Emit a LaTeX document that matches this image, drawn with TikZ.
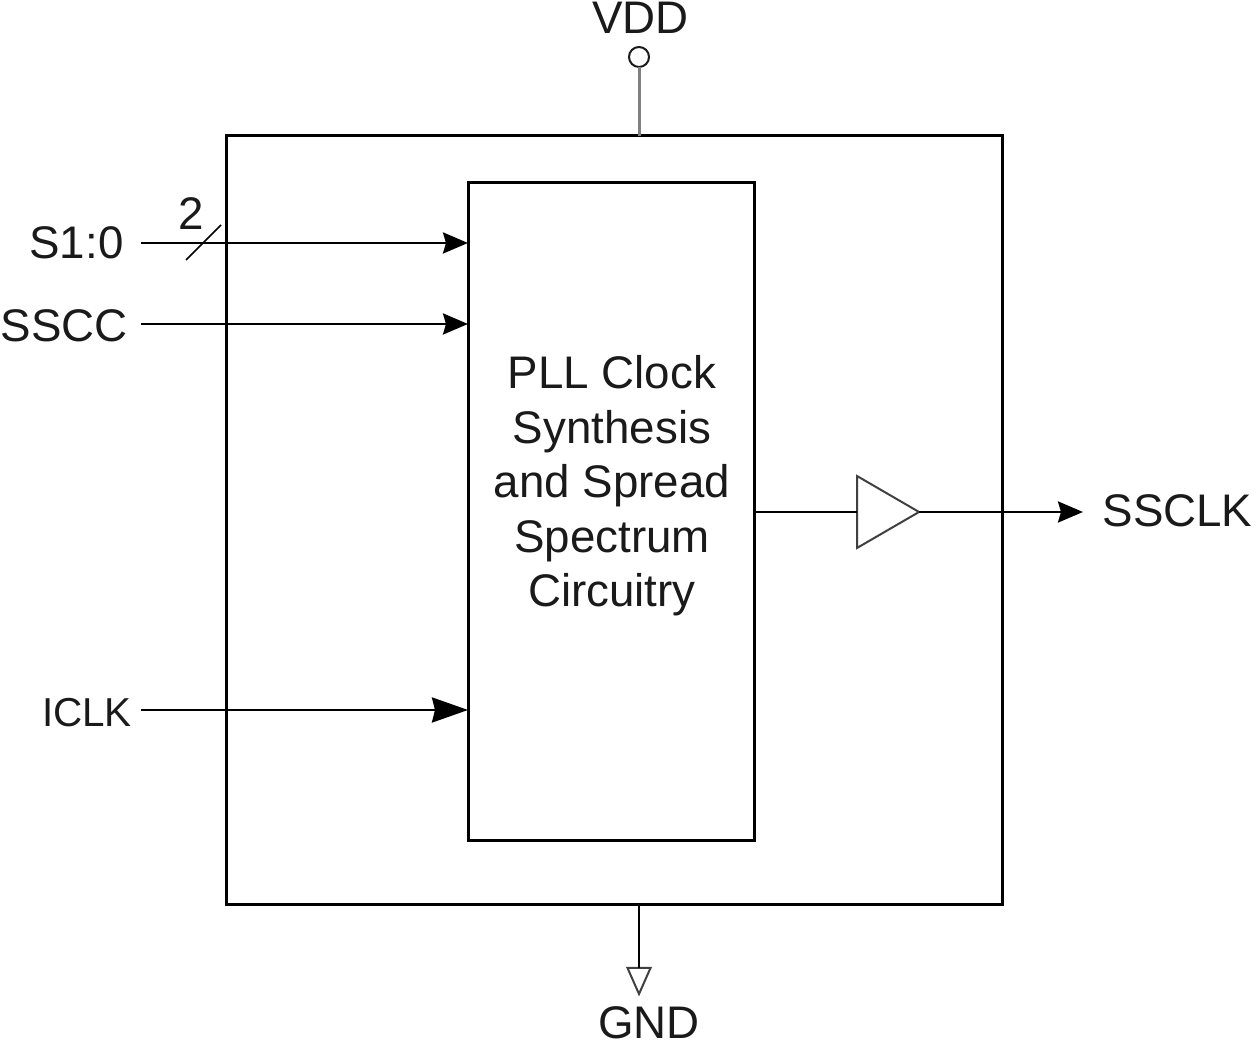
\documentclass[tikz,border=0pt]{standalone}
\usepackage{fontspec}
\setmainfont{Liberation Sans}
\usepackage{tikz}
\usetikzlibrary{positioning, arrows.meta, shapes.geometric, calc}
\definecolor{mInk}{HTML}{1A1A1A}
\definecolor{mGray}{HTML}{808080}

\begin{document}
\begin{tikzpicture}[
  block/.style={draw=black, line width=0.06cm, inner sep=0pt, outer sep=0pt},
  pin/.style={font=\fontsize{26}{31}\selectfont, text=mInk, inner sep=0pt},
  wire/.style={line width=0.055cm, -{Stealth[length=0.5cm, width=0.42cm, inset=0.06cm]}},
  widewire/.style={line width=0.055cm, -{Stealth[length=0.72cm, width=0.5cm, inset=0.06cm]}},
  plainwire/.style={line width=0.055cm},
  buffer/.style={draw=black!75, line width=0.04cm, isosceles triangle, isosceles triangle stretches, inner sep=0pt, outer sep=0pt},
]
  \useasboundingbox (0,0) rectangle (25.12,20.88);

  \node[block, minimum width=15.52cm, minimum height=15.38cm] (chip) at (12.29,10.47) {};
  \node[block, minimum width=5.72cm, minimum height=13.16cm] (pll) at (12.22,10.64) {};
  \node[pin, align=center] (pllText) at (12.24,11.16)
    {PLL Clock\\Synthesis\\and Spread\\Spectrum\\Circuitry};

  \node[pin] (vddLabel) at (12.81,20.52) {VDD};
  \node[draw=mInk, circle, line width=0.04cm, minimum size=0.4cm, inner sep=0pt, outer sep=0pt] (vdd) at (12.78,19.74) {};
  \node[pin] (gndLabel) at (12.98,0.43) {GND};
  \node[buffer, shape border rotate=270, minimum width=0.46cm, minimum height=0.52cm, anchor=apex] (gnd) at (12.78,1.0) {};

  \node[pin] (s1Label) at (1.53,16.02) {S1:0};
  \node[pin] (ssccLabel) at (1.28,14.36) {SSCC};
  \node[pin, font=\fontsize{23}{27}\selectfont] (iclkLabel) at (1.74,6.62) {ICLK};
  \node[pin] (ssclkLabel) at (23.55,10.66) {SSCLK};
  \node[pin] (busWidth) at (3.82,16.6) {2};

  \node[buffer, minimum width=1.44cm, minimum height=1.24cm, anchor=apex] (buf) at (18.38,10.64) {};

  \coordinate (s1Start) at (2.82,16.02);
  \coordinate (ssccStart) at (2.82,14.4);
  \coordinate (iclkStart) at (2.82,6.68);
  \coordinate (ssclkEnd) at (21.66,10.64);
  \coordinate (slashLow) at (3.72,15.68);
  \coordinate (slashHigh) at (4.42,16.38);

  \draw[wire] (s1Start) -- (pll.west |- s1Start);
  \draw[wire] (ssccStart) -- (pll.west |- ssccStart);
  \draw[widewire] (iclkStart) -- (pll.west |- iclkStart);
  \draw[plainwire] (pll.east) -- (buf.lower side);
  \draw[wire] (buf.apex) -- (ssclkEnd);
  \draw[line width=0.03cm] (slashLow) -- (slashHigh);
  \draw[mGray, line width=0.06cm] (vdd.south) -- (vdd.south |- chip.north);
  \draw[plainwire] (gnd.lower side |- chip.south) -- (gnd.lower side);
\end{tikzpicture}
\end{document}
